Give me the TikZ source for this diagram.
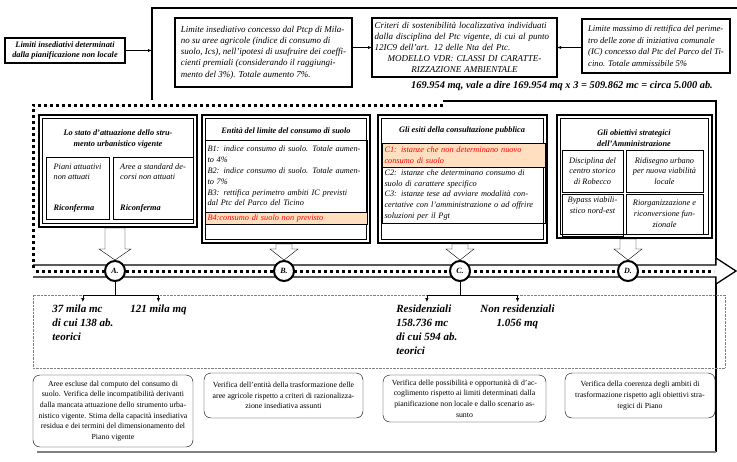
\documentclass[tikz,border=0pt]{standalone}
\usepackage{fontspec}
\setmainfont{Liberation Serif}
\usetikzlibrary{positioning,calc,arrows.meta}

\begin{document}
\begin{tikzpicture}[x=1pt,y=-1pt,every node/.style={outer sep=0pt},
 topbox/.style={draw,line width=1.4pt,anchor=north west,inner sep=2.5pt,
 font=\fontsize{9}{11.2}\selectfont\itshape,align=left},
 panel/.style={draw,line width=1.8pt,anchor=north west},
 inbox/.style={draw,thin,anchor=north west,inner sep=2.5pt,align=left,
 font=\fontsize{8.3}{10.8}\selectfont\itshape},
 hibox/.style={inbox,fill=orange!25,text=red},
 ttl/.style={font=\fontsize{8.3}{11.5}\selectfont\bfseries\itshape,align=center},
 datatxt/.style={anchor=north west,align=left,font=\fontsize{11}{14}\selectfont\bfseries\itshape},
 note/.style={draw,thin,rounded corners=7pt,anchor=north west,align=center,
 font=\fontsize{7.8}{10.6}\selectfont},
 phase/.style={circle,draw,line width=2pt,fill=white,minimum size=20,inner sep=0pt,
 font=\fontsize{8}{8}\selectfont\bfseries\itshape},
 sqdots/.style={line width=3pt,dash pattern=on 3pt off 3pt},
 blockarr/.style={draw,thin,fill=white}]
\useasboundingbox (0,0) rectangle (737,461);

 % upper frame
 \node[draw,line width=1.2pt,anchor=north west,minimum width=120,minimum height=25,align=center,
 font=\fontsize{8.3}{10}\selectfont\bfseries\itshape] (l0) at (5,38)
 {Limiti insediativi determinati\\dalla pianificazione non locale};
 \coordinate (fl) at (152,8);
 \draw[line width=2.2pt] (152,100) -- (fl) -- (737,8);
 \draw[-latex] (l0.east) -- (l0.east -| fl);

 \node[topbox,minimum width=177,minimum height=69] (t1) at (175,18)
 {Limite insediativo concesso dal Ptcp di Mila-\\no su aree agricole (indice di consumo di\\suolo, Ics), nell'ipotesi di usufruire dei coeffi-\\cienti premiali (considerando il raggiungi-\\mento del 3\%). Totale aumento 7\%.};
 \node[topbox,text width=180,minimum height=59] (t2) at (372,18)
 {Criteri di sostenibilità localizzativa individuati\\dalla disciplina del Ptc vigente, di cui al punto\\12IC9 dell'art. 12 delle Nta del Ptc.\par
 \centering MODELLO VDR: CLASSI DI CARATTE-\\RIZZAZIONE AMBIENTALE\par};
 \node[topbox,font=\fontsize{8.7}{11.5}\selectfont\itshape,minimum width=148,minimum height=54] (t3) at (582,19)
 {Limite massimo di rettifica del perime-\\tro delle zone di iniziativa comunale\\(IC) concesso dal Ptc del Parco del Ti-\\cino. Totale ammissibile 5\%};
 \draw[-latex] (t1.east |- t2.west) -- (t2.west);
 \draw[-latex] (t3.west |- t2.east) -- (t2.east);
 \node[font=\fontsize{10.4}{12}\selectfont\bfseries\itshape] (tot) at (562,86)
 {169.954 mq, vale a dire 169.954 mq x 3 = 509.862 mc = circa 5.000 ab.};

 % lower frame
 \draw[line width=2pt] (443,101) -- (716,101) -- (716,452);
 \draw[line width=1.5pt,gray] (37,452) -- (716,452);

 \node[panel,minimum width=158,minimum height=112] (pa) at (39,115) {};
 \node[panel,minimum width=168,minimum height=128] (pb) at (202,115) {};
 \node[panel,minimum width=169,minimum height=128] (pc) at (378,115) {};
 \node[panel,minimum width=155,minimum height=123] (pd) at (557,115) {};
 \foreach \P in {pa,pb,pc,pd}
 \draw[thin] ([shift={(3.5pt,-3.5pt)}]\P.north west) rectangle ([shift={(-3.5pt,3.5pt)}]\P.south east);

 \node[ttl] (pat) at (118,139) {Lo stato d'attuazione dello stru-\\mento urbanistico vigente};
 \node[inbox,minimum width=63,minimum height=62] (a1) at (46,157)
 {Piani attuativi\\non attuati\\[20pt]\textbf{Riconferma}};
 \node[inbox,minimum width=80,minimum height=62] (a2) at (113,157)
 {Aree a standard de-\\corsi non attuati\\[20pt]\textbf{Riconferma}};

 \node[ttl] (pbt) at (286,131) {Entità del limite del consumo di suolo};
 \node[inbox,text width=157,minimum height=72] (b1) at (205,140)
 {B1: indice consumo di suolo. Totale aumen-\\to 4\%\\B2: indice consumo di suolo. Totale aumen-\\to 7\%\\B3: rettifica perimetro ambiti IC previsti\\dal Ptc del Parco del Ticino};
 \node[hibox,text width=157] (b4) at (b1.south west) {B4:consumo di suolo non previsto};

 \node[ttl] (pct) at (462,131) {Gli esiti della consultazione pubblica};
 \node[hibox,draw=black,semithick,text width=158,minimum height=24] (c1) at (382,143)
 {C1: istanze che non determinano nuovo\\consumo di suolo};
 \node[inbox,text width=158] (c2) at (c1.south west)
 {C2: istanze che determinano consumo di\\suolo di carattere specifico\\C3: istanze tese ad avviare modalità con-\\certative con l'amministrazione o ad offrire\\soluzioni per il Pgt};

 \node[ttl] (pdt) at (634,138) {Gli obiettivi strategici\\dell'Amministrazione};
 \node[inbox,align=center,minimum width=61,minimum height=42] (d1) at (562,150)
 {Disciplina del\\centro storico\\di Robecco};
 \node[inbox,align=center,minimum width=77,minimum height=42] (d2) at (626,150)
 {Ridisegno urbano\\per nuova viabilità\\locale};
 \node[inbox,align=center,minimum width=61,minimum height=40] (d3) at (562,194)
 {Bypass viabili-\\stico nord-est\\[10pt]};
 \node[inbox,align=center,minimum width=77,minimum height=40] (d4) at (626,194)
 {Riorganizzazione e\\riconversione fun-\\zionale};

 % timeline
 \draw[line width=1.3pt,fill=white] (33,265) -- (716,265) -- (716,258) -- (736,271)
 -- (716,284) -- (716,277) -- (33,277);
 \draw[sqdots] (36,271) -- (714,271);
 \draw[sqdots] (443,105) -| (33,268);

 \node[phase] (ma) at (115,271) {A.};
 \node[phase] (mb) at (284,271) {B.};
 \node[phase] (mc) at (460,271) {C.};
 \node[phase] (md) at (628,271) {D.};

 \foreach \P/\M/\W in {pa/ma/10,pb/mb/8,pc/mc/8,pd/md/8}
 \draw[blockarr] ($(\M.north|-\P.south)+(-\W,1)$) -- ++(2*\W,0) -- ($(\M.north)+(\W,-12)$)
 -- ++(6,0) -- ($(\M.north)+(0,-1)$) -- ++(-\W-6,-11) -- ++(6,0) -- cycle;

 % quantities
 \draw[densely dotted,gray] (33,295) rectangle (725,368);
 \node[datatxt] (da1) at (49,302) {37 mila mc\\di cui 138 ab.\\teorici};
 \node[datatxt] (da2) at (127,302) {121 mila mq};
 \node[datatxt] (dc1) at (393,302) {Residenziali\\158.736 mc\\di cui 594 ab.\\teorici};
 \node[datatxt,align=center] (dc2) at (477,302) {Non residenziali\\1.056 mq};
 \coordinate (ja) at ($(ma.south)+(0,14)$);
 \coordinate (jc) at ($(mc.south)+(0,14)$);
 \draw[semithick] (ma.south) -- (ja);
 \draw[semithick] (mc.south) -- (jc);
 \draw[semithick] (ja -| da1.north) -- (ja -| da2.north);
 \draw[semithick] (jc -| dc1.north) -- (jc -| dc2.north);
 \foreach \J/\D in {ja/da1,ja/da2,jc/dc1,jc/dc2}
 \draw[semithick,-{Latex[length=4pt,width=3.5pt]}] (\J -| \D.north) -- (\D.north);

 % checks
 \node[note,minimum width=160,minimum height=72] (n1) at (33,375)
 {Aree escluse dal computo del consumo di\\suolo. Verifica delle incompatibilità derivanti\\dalla mancata attuazione dello strumento urba-\\nistico vigente. Stima della capacità insediativa\\residua e dei termini del dimensionamento del\\Piano vigente};
 \node[note,minimum width=159,minimum height=45] (n2) at (204,373)
 {Verifica dell'entità della trasformazione delle\\aree agricole rispetto a criteri di razionalizza-\\zione insediativa assunti};
 \node[note,minimum width=163,minimum height=47] (n3) at (383,375)
 {Verifica delle possibilità e opportunità di d'ac-\\coglimento rispetto ai limiti determinati dalla\\pianificazione non locale e dallo scenario as-\\sunto};
 \node[note,minimum width=150,minimum height=45] (n4) at (565,373)
 {Verifica della coerenza degli ambiti di\\trasformazione rispetto agli obiettivi stra-\\tegici di Piano};

\end{tikzpicture}
\end{document}
